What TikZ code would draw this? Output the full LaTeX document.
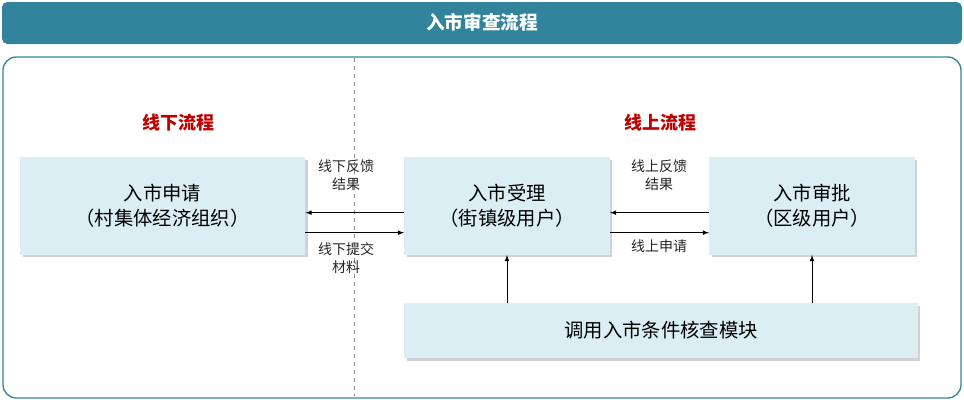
\documentclass[tikz,border=0pt]{standalone}
\usepackage{fontspec}
\setmainfont{Noto Sans CJK SC}
\usepackage{tikz}
\usetikzlibrary{arrows, shadows}
\definecolor{teal1}{HTML}{31849B}
\definecolor{boxfill}{HTML}{DAEEF3}
\definecolor{redtxt}{HTML}{C00000}
\tikzstyle{title} = [font=\fontsize{14}{16}\selectfont\bfseries, text=white]
\tikzstyle{stage} = [font=\fontsize{13.5}{16}\selectfont\bfseries, text=redtxt]
\tikzstyle{proc} = [font=\fontsize{14.5}{19}\selectfont, rectangle, align=center, fill=boxfill, drop shadow={shadow xshift=2pt, shadow yshift=-2pt, fill=black!35}]
\tikzstyle{anno} = [font=\fontsize{10.5}{13}\selectfont, align=center, text=black!85]
\tikzstyle{arrow} = [semithick,->,>=latex]
\begin{document}
\begin{tikzpicture}[x=0.75pt, y=-0.75pt]
\useasboundingbox (0,0) rectangle (964,401);
\fill[teal1, rounded corners=4pt] (2,2) rectangle (962,44);
  \node (head) [title] at (482,22) {入市审查流程};
\draw[teal1, line width=1pt, rounded corners=10pt] (3,57) rectangle (961,398);
\draw[dashed, black!45] (354,58) -- (354,396);
  \node (offline) [stage] at (178,123) {线下流程};
  \node (online) [stage] at (660,123) {线上流程};
  \node (apply) [proc, minimum width=214pt, minimum height=73pt] at (162.5,206) {入市申请\\（村集体经济组织）};
  \node (accept) [proc, minimum width=154pt, minimum height=73pt] at (507,206) {入市受理\\（街镇级用户）};
  \node (approve) [proc, minimum width=154pt, minimum height=73pt] at (812,206) {入市审批\\（区级用户）};
  \node (check) [proc, minimum width=385pt, minimum height=41pt] at (661,330.5) {调用入市条件核查模块};
  \node (l1) [anno] at (346,175) {线下反馈\\结果};
  \node (l2) [anno] at (346,258) {线下提交\\材料};
  \node (l3) [anno] at (659,175) {线上反馈\\结果};
  \node (l4) [anno] at (659,246) {线上申请};
  \draw[arrow] ([yshift=-5pt]accept.west) -- ([yshift=-5pt]apply.east);
  \draw[arrow] ([yshift=-20pt]apply.east) -- ([yshift=-20pt]accept.west);
  \draw[arrow] ([yshift=-5pt]approve.west) -- ([yshift=-5pt]accept.east);
  \draw[arrow] ([yshift=-20pt]accept.east) -- ([yshift=-20pt]approve.west);
  \draw[arrow] (check.north -| accept.south) -- (accept.south);
  \draw[arrow] (check.north -| approve.south) -- (approve.south);
\end{tikzpicture}
\end{document}
